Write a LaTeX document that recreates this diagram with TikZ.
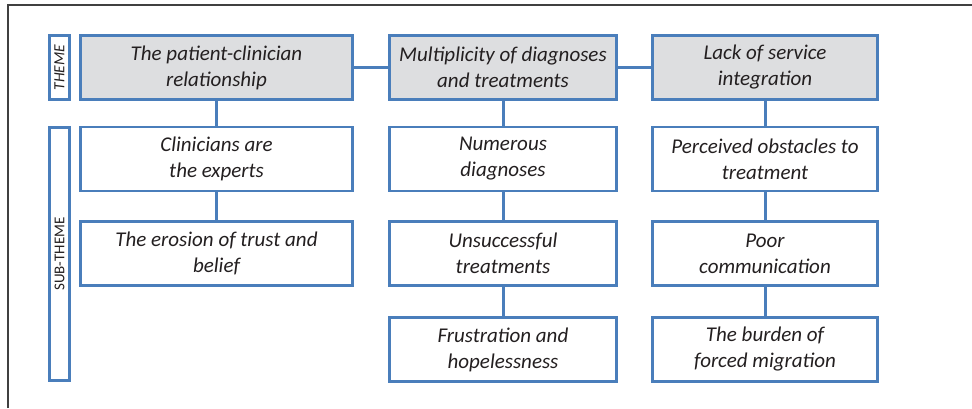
\documentclass[tikz,border=0pt]{standalone}
\usepackage{fontspec}
\setmainfont{Carlito}
\definecolor{bl}{HTML}{4A7EBB}
\definecolor{gf}{HTML}{DDDEE0}
\definecolor{tx}{HTML}{231F20}
\definecolor{fr}{HTML}{404040}
\begin{document}
\begin{tikzpicture}[x=1pt,y=-1pt,
  box/.style={draw=bl,line width=2.6pt,fill=white,text=tx,align=center,
    font=\fontsize{21}{26}\selectfont\itshape,inner sep=0pt,minimum height=64pt},
  themebox/.style={box,fill=gf},
  c1/.style={minimum width=272pt},
  c2/.style={minimum width=227pt},
  c3/.style={minimum width=225pt},
  label/.style={draw=bl,line width=2.6pt,fill=white,text=tx,inner sep=0pt,minimum width=20pt},
  link/.style={draw=bl,line width=3pt}]
\useasboundingbox (0,0) rectangle (972,408);
\draw[fr,line width=1.5pt] (8,408) -- (8,5) -- (972,5);
% theme row
\node[themebox,c1] (t1) at (216.5,67.5) {The patient-clinician\\relationship};
\node[themebox,c2] (t2) at (503,67.5) {Multiplicity of diagnoses\\and treatments};
\node[themebox,c3] (t3) at (765,67.5) {Lack of service\\integration};
% column 1
\node[box,c1] (a1) at (216.5,159) {Clinicians are\\the experts};
\node[box,c1] (a2) at (216.5,253.5) {The erosion of trust and\\belief};
% column 2
\node[box,c2] (b1) at (503,159) {Numerous\\diagnoses};
\node[box,c2] (b2) at (503,253.5) {Unsuccessful\\treatments};
\node[box,c2] (b3) at (503,349.5) {Frustration and\\hopelessness};
% column 3
\node[box,c3] (d1) at (765,159) {Perceived obstacles to\\treatment};
\node[box,c3] (d2) at (765,253.5) {Poor\\communication};
\node[box,c3] (d3) at (765,349.5) {The burden of\\forced migration};
% side labels
\node[label,minimum height=64pt] (lt) at (59.5,67.5) {};
\node[rotate=90,text=tx,font=\fontsize{15.5}{16}\selectfont\itshape] (ltt) at (lt.center) {THEME};
\node[label,minimum height=253pt] (ls) at (59.5,254) {};
\node[rotate=90,text=tx,font=\fontsize{15}{16}\selectfont] (lst) at (ls.center) {SUB-THEME};
% connectors
\draw[link] (t1.east) -- (t2.west);
\draw[link] (t2.east) -- (t3.west);
\draw[link] (t1.south) -- (a1.north);
\draw[link] (a1.south) -- (a2.north);
\draw[link] (t2.south) -- (b1.north);
\draw[link] (b1.south) -- (b2.north);
\draw[link] (b2.south) -- (b3.north);
\draw[link] (t3.south) -- (d1.north);
\draw[link] (d1.south) -- (d2.north);
\draw[link] (d2.south) -- (d3.north);
\end{tikzpicture}
\end{document}
